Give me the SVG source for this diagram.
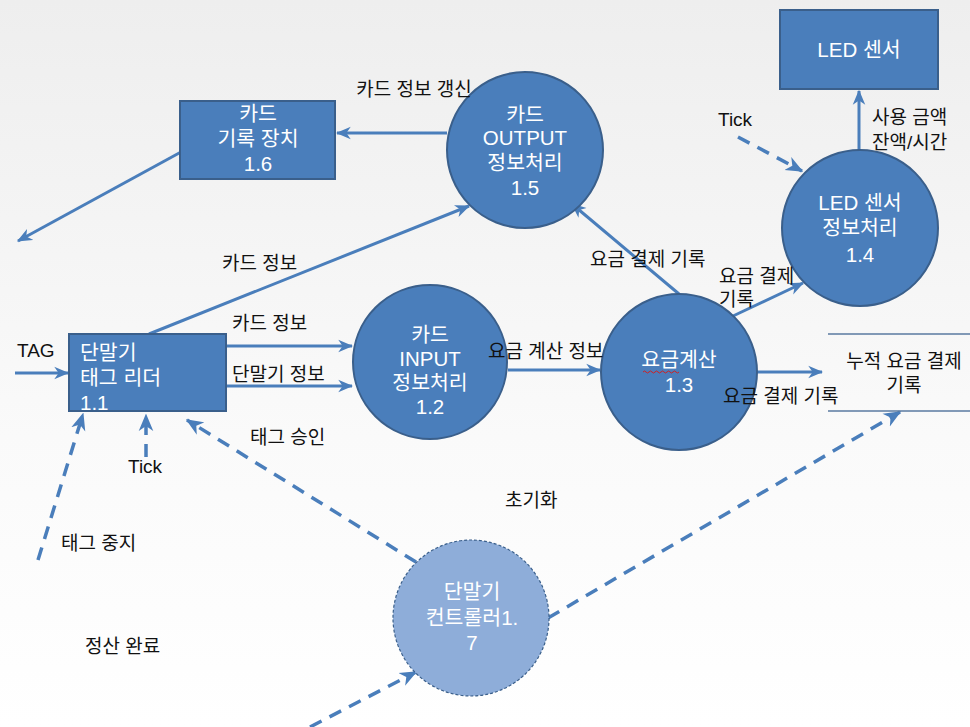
<svg xmlns="http://www.w3.org/2000/svg" width="970" height="727" viewBox="0 0 970 727">
<defs>
<linearGradient id="bg" x1="0" y1="0" x2="0" y2="1">
<stop offset="0" stop-color="#eeeeee"/>
<stop offset="0.6" stop-color="#fafafa"/>
<stop offset="1" stop-color="#ffffff"/>
</linearGradient>
<marker id="ah" viewBox="0 0 12 10" refX="11" refY="5" markerWidth="5" markerHeight="4.5" orient="auto" markerUnits="strokeWidth">
<path d="M0,0 L12,5 L0,10 L3.5,5 z" fill="#4a7ebb"/>
</marker>
<style>
.proc{fill:#4a7ebb;stroke:#3a5f8b;stroke-width:2}
.ctrl{fill:#8eadd9;stroke:#3a5f8b;stroke-width:1.2;stroke-dasharray:3 2}
.nt{font-family:"Liberation Sans","Noto Sans CJK KR",sans-serif;font-size:20.5px;fill:#ffffff;text-anchor:middle}
.ntl{font-family:"Liberation Sans","Noto Sans CJK KR",sans-serif;font-size:20.5px;fill:#ffffff}
.lb{font-family:"Liberation Sans","Noto Sans CJK KR",sans-serif;font-size:19px;fill:#111111}
.lbc{font-family:"Liberation Sans","Noto Sans CJK KR",sans-serif;font-size:19px;fill:#111111;text-anchor:middle}
.fl{fill:none;stroke:#4a7ebb;stroke-width:3;marker-end:url(#ah)}
.dl{fill:none;stroke:#4a7ebb;stroke-width:3.5;stroke-dasharray:13 9;marker-end:url(#ah)}
.store{stroke:#5a7aa0;stroke-width:1.5}
</style>
</defs>
<rect x="0" y="0" width="970" height="727" fill="url(#bg)"/>

<g id="connectors">
<line class="fl" x1="15" y1="373" x2="68" y2="373"/>
<line class="fl" x1="226" y1="346" x2="352" y2="346"/>
<line class="fl" x1="226" y1="386" x2="352" y2="386"/>
<line class="fl" x1="149" y1="334" x2="469" y2="206"/>
<line class="fl" x1="447" y1="133" x2="337" y2="133"/>
<line class="fl" x1="181" y1="152" x2="18" y2="241"/>
<line class="fl" x1="508" y1="370" x2="600" y2="370"/>
<line class="fl" x1="679" y1="294" x2="572" y2="204"/>
<line class="fl" x1="733" y1="316" x2="803" y2="283"/>
<line class="fl" x1="859" y1="150" x2="859" y2="91"/>
<line class="fl" x1="757" y1="372" x2="822" y2="372"/>
<line class="dl" x1="738" y1="137" x2="802" y2="171"/>
<line class="dl" x1="146" y1="457" x2="146" y2="415"/>
<line class="dl" x1="38" y1="560" x2="83" y2="414"/>
<line class="dl" x1="416" y1="562" x2="187" y2="420"/>
<line class="dl" x1="310" y1="727" x2="416" y2="672"/>
<line class="dl" x1="548" y1="618" x2="900" y2="412"/>
</g>

<g id="store">
<line class="store" x1="828" y1="334" x2="970" y2="334"/>
<line class="store" x1="828" y1="411" x2="970" y2="411"/>
<text class="lbc" x="904" y="368">누적 요금 결제</text>
<text class="lbc" x="904" y="392">기록</text>
</g>

<g id="n1_1">
<rect class="proc" x="69" y="334" width="157" height="77"/>
<text class="ntl" x="80" y="360">단말기</text>
<text class="ntl" x="80" y="385">태그 리더</text>
<text class="ntl" x="80" y="410">1.1</text>
</g>

<g id="n1_6">
<rect class="proc" x="180" y="101" width="155" height="78"/>
<text class="nt" x="258" y="121">카드</text>
<text class="nt" x="258" y="146">기록 장치</text>
<text class="nt" x="258" y="171">1.6</text>
</g>

<g id="led">
<rect class="proc" x="780" y="10" width="158" height="79"/>
<text class="nt" x="859" y="57">LED 센서</text>
</g>

<g id="n1_2">
<circle class="proc" cx="430" cy="362" r="77"/>
<text class="nt" x="430" y="342">카드</text>
<text class="nt" x="430" y="366">INPUT</text>
<text class="nt" x="430" y="390">정보처리</text>
<text class="nt" x="430" y="414">1.2</text>
</g>

<g id="n1_5">
<circle class="proc" cx="525" cy="150" r="78"/>
<text class="nt" x="525" y="122">카드</text>
<text class="nt" x="525" y="145">OUTPUT</text>
<text class="nt" x="525" y="170">정보처리</text>
<text class="nt" x="525" y="195">1.5</text>
</g>

<g id="n1_3">
<circle class="proc" cx="679" cy="372" r="78"/>
<text class="nt" x="679" y="367">요금계산</text>
<path d="M643,372 q1.5,-2 3,0 t3,0 t3,0 t3,0 t3,0 t3,0 t3,0 t3,0 t3,0 t3,0 t3,0 t3,0" fill="none" stroke="#d02020" stroke-width="1"/>
<text class="nt" x="679" y="392">1.3</text>
</g>

<g id="n1_4">
<circle class="proc" cx="860" cy="228" r="78"/>
<text class="nt" x="860" y="210">LED 센서</text>
<text class="nt" x="860" y="235">정보처리</text>
<text class="nt" x="860" y="262">1.4</text>
</g>

<g id="n1_7">
<circle class="ctrl" cx="471" cy="618" r="78"/>
<text class="nt" x="472" y="599">단말기</text>
<text class="nt" x="472" y="625">컨트롤러1.</text>
<text class="nt" x="472" y="650">7</text>
</g>

<g id="labels">
<text class="lb" x="17" y="357">TAG</text>
<text class="lb" x="232" y="330">카드 정보</text>
<text class="lb" x="232" y="381">단말기 정보</text>
<text class="lb" x="222" y="270">카드 정보</text>
<text class="lbc" x="414" y="96">카드 정보 갱신</text>
<text class="lb" x="250" y="444">태그 승인</text>
<text class="lb" x="128" y="473">Tick</text>
<text class="lb" x="61" y="550">태그 중지</text>
<text class="lb" x="85" y="653">정산 완료</text>
<text class="lb" x="505" y="507">초기화</text>
<text class="lb" x="488" y="358">요금 계산 정보</text>
<text class="lb" x="590" y="266">요금 결제 기록</text>
<text class="lb" x="719" y="283">요금 결제</text>
<text class="lb" x="719" y="306">기록</text>
<text class="lb" x="718" y="126">Tick</text>
<text class="lb" x="872" y="124">사용 금액</text>
<text class="lb" x="872" y="149">잔액/시간</text>
<text class="lb" x="723" y="403">요금 결제 기록</text>
</g>
</svg>
